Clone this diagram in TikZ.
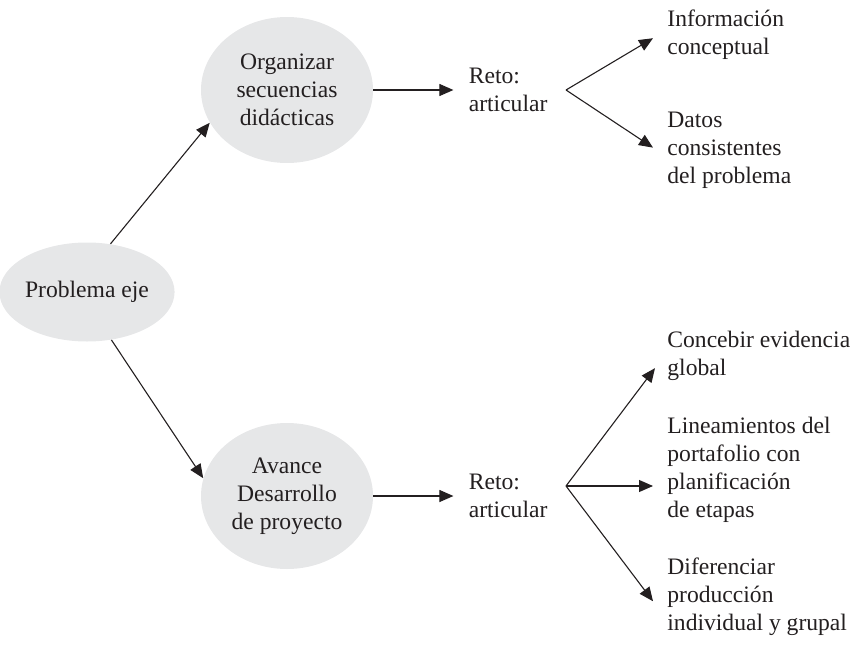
\documentclass[tikz,border=0pt]{standalone}
\usepackage{fontspec}
\setmainfont{Liberation Serif}
\usetikzlibrary{arrows.meta,positioning,shapes.geometric}
\definecolor{ink}{HTML}{231F20}
\definecolor{blobgray}{HTML}{E6E7E8}

\begin{document}
\begin{tikzpicture}[
      x=0.5pt, y=-0.5pt,
      nodes={text=ink, font=\fontsize{11.8}{14}\selectfont},
      blob/.style={ellipse, fill=blobgray, inner sep=0pt, align=center,
        minimum width=86pt, minimum height=73pt},
      txt/.style={inner sep=0pt, align=left, anchor=north west},
      arr/.style={-{Triangle[length=7pt,width=6pt]}, draw=ink, line width=0.55pt}
      ]
  \useasboundingbox (0,0) rectangle (855,658);

  \node[blob, minimum width=79.5pt, minimum height=49.5pt] (pe) at (87,292) {Problema eje};
  \node[blob] (org) at (287,90)  {Organizar\\secuencias\\didácticas};
  \node[blob] (av)  at (287,496) {Avance\\Desarrollo\\de proyecto};
  \node[txt, anchor=west, right=47.5pt of org] (reto1) {Reto:\\articular};
  \node[txt, anchor=west, right=47.5pt of av]  (reto2) {Reto:\\articular};
  \node[txt] (info)  at (667,9)   {Información\\conceptual};
  \node[txt] (datos) at (667,112) {Datos\\consistentes\\del problema};
  \node[txt] (conc)  at (667,331) {Concebir evidencia\\global};
  \node[txt] (lin)   at (667,417) {Lineamientos del\\portafolio con\\planificación\\de etapas};
  \node[txt] (dif)   at (667,557) {Diferenciar\\producción\\individual y grupal};

  \coordinate (b1) at (566,90);
  \coordinate (b2) at (566,486);

  % Connect the nodes
  \draw[arr] (pe.64) -- (org.203);
  \draw[arr] (pe.297) -- (av.168);
  \draw[arr] (org.east) -- ([xshift=-7.5pt]org.east -| reto1.west);
  \draw[arr] (av.east) -- ([xshift=-7.5pt]av.east -| reto2.west);
  \draw[arr] (b1) -- ([xshift=-7pt,yshift=-2pt]info.west);
  \draw[arr] (b1) -- ([xshift=-7pt,yshift=1.5pt]datos.west);
  \draw[arr] (b2) -- ([xshift=-6pt,yshift=-6pt]conc.west);
  \draw[arr] (b2) -- ([xshift=-7pt]b2 -| lin.west);
  \draw[arr] (b2) -- ([xshift=-7pt,yshift=-2.5pt]dif.west);
  %\draw[arr] (reto1.east) -- (b1);

\end{tikzpicture}
\end{document}
